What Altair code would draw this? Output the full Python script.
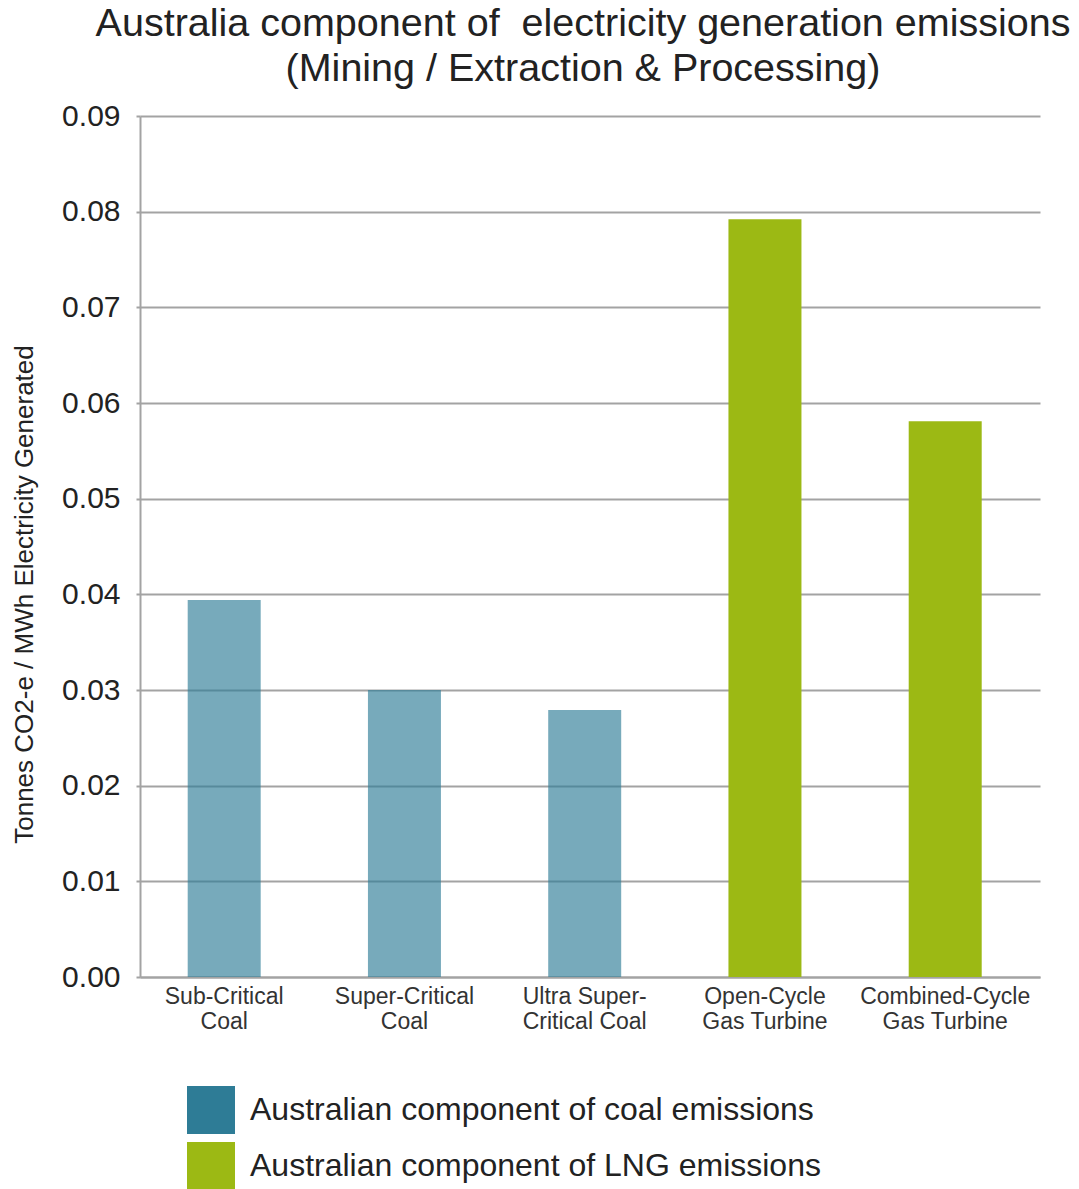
import altair as alt
import pandas as pd

# Generation technologies (two-line axis labels)
technologies = [
    "Sub-Critical\nCoal",
    "Super-Critical\nCoal",
    "Ultra Super-\nCritical Coal",
    "Open-Cycle\nGas Turbine",
    "Combined-Cycle\nGas Turbine",
]
# Tonnes CO2-e per MWh generated
emissions = [0.0394, 0.0300, 0.0279, 0.0792, 0.0581]
# Fuel group of each technology
fuel_group = [
    "Australian component of coal emissions",
    "Australian component of coal emissions",
    "Australian component of coal emissions",
    "Australian component of LNG emissions",
    "Australian component of LNG emissions",
]
groups = [
    "Australian component of coal emissions",
    "Australian component of LNG emissions",
]
group_colors = ["#2e7c96", "#9cb914"]
y_ticks = [0.00, 0.01, 0.02, 0.03, 0.04, 0.05, 0.06, 0.07, 0.08, 0.09]

df = pd.DataFrame({"tech": technologies, "value": emissions, "group": fuel_group})

FONT = "Liberation Sans"
INK = "#222222"
GRID = "#a3a3a3"

bars = alt.Chart(df).mark_bar().encode(
    x=alt.X(
        "tech:N",
        sort=technologies,
        scale=alt.Scale(paddingInner=0.595, paddingOuter=0.294, align=0.45),
        axis=alt.Axis(
            title=None,
            labelAngle=0,
            labelExpr="split(datum.label, '\\n')",
            labelFont=FONT,
            labelFontSize=23,
            labelLineHeight=25,
            labelColor="#333333",
            labelPadding=8,
            ticks=False,
            domainColor=GRID,
            domainWidth=2,
            grid=False,
        ),
    ),
    y=alt.Y(
        "value:Q",
        scale=alt.Scale(domain=[0, 0.09], nice=False),
        axis=alt.Axis(
            title="Tonnes CO2-e / MWh Electricity Generated",
            titleFont=FONT,
            titleFontSize=26,
            titleFontWeight="normal",
            titleColor=INK,
            titleX=-116,
            titleY=478,
            titleAngle=270,
            titleAlign="center",
            titleBaseline="middle",
            values=y_ticks,
            format=".2f",
            labelFont=FONT,
            labelFontSize=30,
            labelColor=INK,
            labelPadding=16,
            tickSize=4,
            tickColor=GRID,
            tickWidth=2,
            domainColor=GRID,
            domainWidth=2,
            gridColor=GRID,
            gridWidth=2,
        ),
    ),
    color=alt.Color(
        "group:N",
        scale=alt.Scale(domain=groups, range=group_colors),
        legend=alt.Legend(
            title=None,
            orient="none",
            legendX=47,
            legendY=970,
            direction="vertical",
            symbolType="square",
            symbolSize=2304,
            symbolStrokeWidth=0,
            labelFont=FONT,
            labelFontSize=32,
            labelColor=INK,
            labelOffset=15,
            labelLimit=800,
            rowPadding=8,
            padding=0,
        ),
    ),
    opacity=alt.condition(
        alt.datum.group == groups[0], alt.value(0.65), alt.value(1.0)
    ),
)

chart = bars.properties(
    width=900,
    height=861,
    background="white",
    padding={"left": 140, "top": 116, "right": 39, "bottom": 212},
    autosize=alt.AutoSizeParams(type="none"),
    title=alt.TitleParams(
        text=[
            "Australia component of \u00a0electricity generation emissions",
            "(Mining / Extraction & Processing)",
        ],
        font=FONT,
        fontSize=39.5,
        fontWeight="normal",
        color=INK,
        lineHeight=45,
        anchor="middle",
        dx=-7,
        offset=12,
    ),
).configure_view(stroke=None)

chart.save("out.html", embed_options={"renderer": "svg", "actions": False})
